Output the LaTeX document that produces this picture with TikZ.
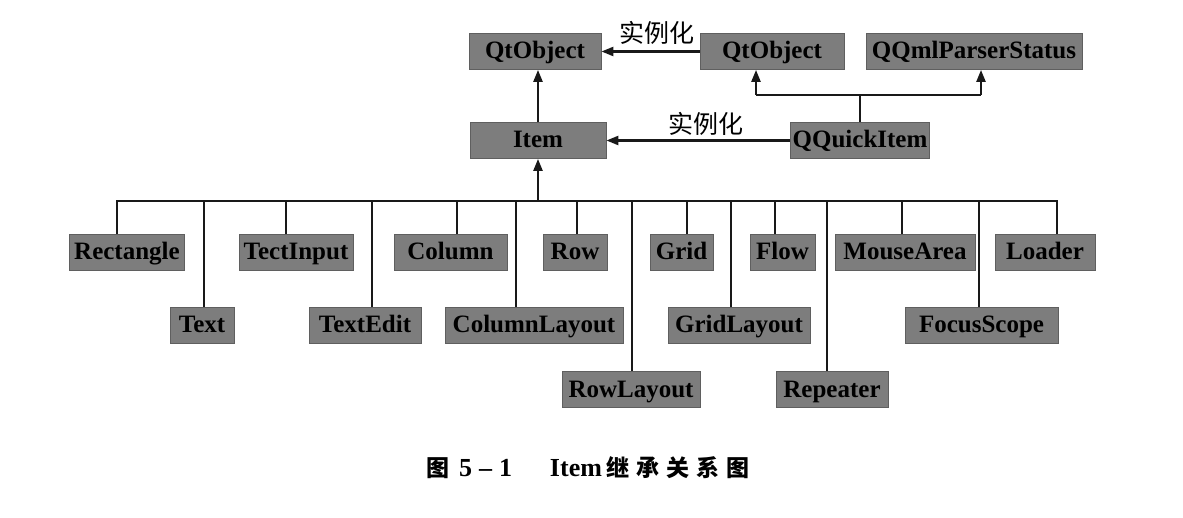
\documentclass[tikz,border=0pt]{standalone}
\usepackage{fontspec}
\setmainfont{Liberation Serif}
\newfontfamily\cjk{Noto Sans CJK SC}
\usetikzlibrary{arrows.meta}
\definecolor{boxfill}{RGB}{125,125,125}
\definecolor{boxedge}{RGB}{95,95,95}
\begin{document}
\begin{tikzpicture}[x=1pt,y=-1pt,
  cls/.style={fill=boxfill, draw=boxedge, line width=0.8pt, inner sep=0pt,
    minimum height=36pt, text height=18.5pt, text depth=3.5pt,
    font=\bfseries\fontsize{25}{25}\selectfont, text=black},
  link/.style={line width=2.3pt, draw=black!90},
  arr/.style={link, -{Triangle[length=12pt,width=9pt]}},
  lbl/.style={inner sep=0pt, font=\cjk\fontsize{25}{25}\selectfont}]
\useasboundingbox (0,0) rectangle (1183,518);
% top part
\node[cls, minimum width=132pt] (qto1) at (535,51.5) {QtObject};
\node[cls, minimum width=144pt] (qto2) at (772,51.5) {QtObject};
\node[cls, minimum width=216pt] (qqml) at (974,51.5) {QQmlParserStatus};
\node[cls, minimum width=136pt] (item) at (538,140.5) {Item};
\node[cls, minimum width=139pt] (qquick) at (860,140.5) {QQuickItem};
\node[lbl] (inst1) at (657,33) {实例化};
\node[lbl] (inst2) at (706,124) {实例化};
\draw[arr] (qto2.west) -- (qto1.east);
\draw[arr] (qquick.west) -- (item.east);
\draw[arr] (item.north) -- (item.north |- qto1.south);
\coordinate (brL) at (756,95);
\coordinate (brR) at (981,95);
\draw[link] (qquick.north) -- (qquick.north |- brL);
\draw[link] (brL) -- (brR);
\draw[arr] (brL) -- (brL |- qto2.south);
\draw[arr] (brR) -- (brR |- qqml.south);
% children
\node[cls, minimum width=115pt] (rect) at (127,252) {Rectangle};
\node[cls, minimum width=114pt] (tinput) at (296,252) {TectInput};
\node[cls, minimum width=113pt] (column) at (450.5,252) {Column};
\node[cls, minimum width=64pt] (row) at (575,252) {Row};
\node[cls, minimum width=63pt] (grid) at (681.5,252) {Grid};
\node[cls, minimum width=65pt] (flow) at (782.5,252) {Flow};
\node[cls, minimum width=140pt] (mouse) at (905,252) {MouseArea};
\node[cls, minimum width=100pt] (loader) at (1045,252) {Loader};
\node[cls, minimum width=64pt] (text) at (202,325) {Text};
\node[cls, minimum width=112pt] (tedit) at (365,325) {TextEdit};
\node[cls, minimum width=178pt] (clay) at (534,325) {ColumnLayout};
\node[cls, minimum width=142pt] (glay) at (739,325) {GridLayout};
\node[cls, minimum width=153pt] (focus) at (981.5,325) {FocusScope};
\node[cls, minimum width=138pt] (rlay) at (631,389.5) {RowLayout};
\node[cls, minimum width=112pt] (rep) at (832,389.5) {Repeater};
% bus
\coordinate (busL) at (117,201);
\coordinate (busR) at (1057,201);
\draw[link, line cap=rect] (busL) -- (busR);
\draw[arr] (item.south |- busL) -- (item.south);
\foreach \n/\x in {rect/117, text/204, tinput/286, tedit/372, column/457, clay/516,
  row/577, rlay/632, grid/687, glay/731, flow/775, rep/827, mouse/902, focus/979, loader/1057}{
  \coordinate (b\n) at (\x,201);
  \draw[link] (b\n) -- (b\n |- \n.north);
}
% caption
\node[inner sep=0pt, font=\bfseries\fontsize{26}{26}\selectfont] (cap) at (588,468)
  {{\cjk\bfseries\fontsize{23}{23}\selectfont 图}\hspace{10pt}5\hspace{7pt}–\hspace{7pt}1\hspace{38pt}Item\hspace{5pt}{\cjk\bfseries\fontsize{23}{23}\selectfont 继\hspace{7pt}承\hspace{7pt}关\hspace{7pt}系\hspace{7pt}图}};
\end{tikzpicture}
\end{document}
